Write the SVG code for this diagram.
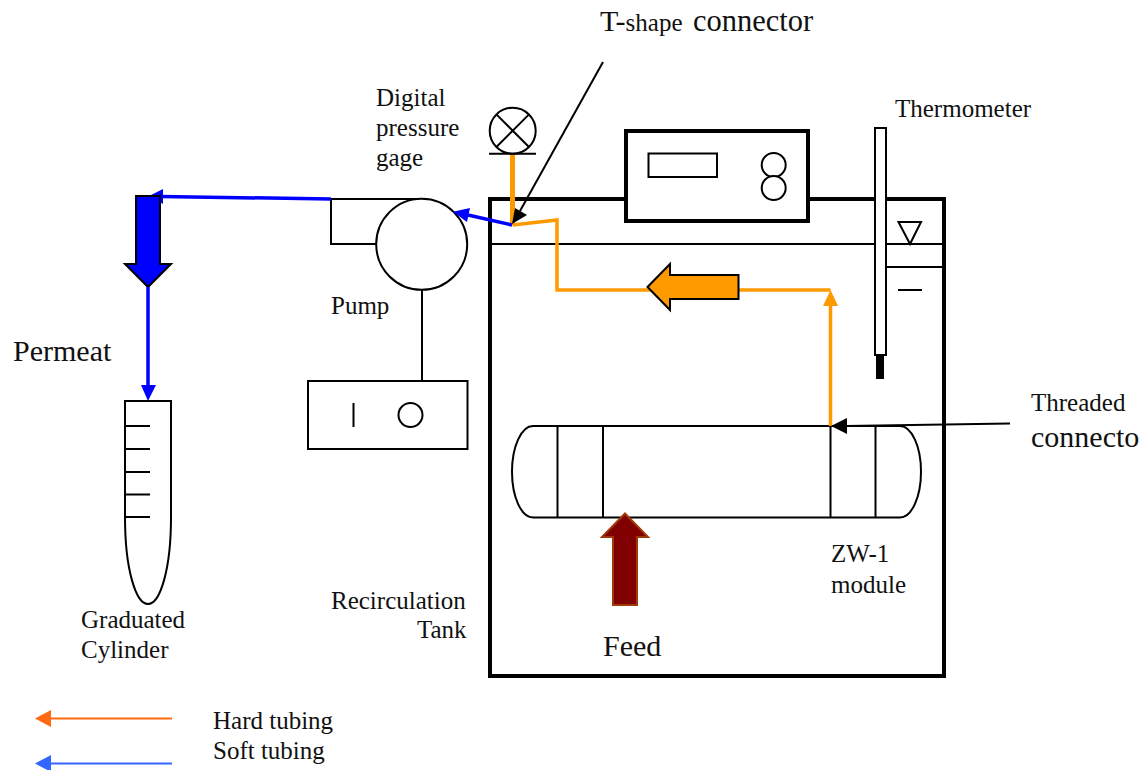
<svg xmlns="http://www.w3.org/2000/svg" width="1145" height="770" viewBox="0 0 1145 770">
<style>
text{font-family:"Liberation Serif","Times New Roman",serif;fill:#111;font-size:25px}
.big{font-size:30px}
.s{fill:none;stroke:#000;stroke-width:2}
.w{fill:#fff;stroke:#000;stroke-width:2}
.t{fill:#fff;stroke:#000;stroke-width:4}
.o{fill:none;stroke:#ff9900;stroke-width:3.5}
.b{fill:none;stroke:#0000ff;stroke-width:3.5}
</style>
<rect width="1145" height="770" fill="#fff"/>
<g id="tank">
<rect x="490" y="199" width="454" height="477" class="t" style="fill:none"/>
<path class="s" d="M490 244H944M886 267H944M898 290H922"/>
<path class="w" d="M898.500 222H921L910 244Z"/>
</g>
<g id="controller">
<rect x="626" y="131" width="182" height="90" class="t"/>
<rect x="648.500" y="153.500" width="68.500" height="23.500" class="w"/>
<circle cx="773.700" cy="165" r="12" class="w"/>
<circle cx="773.700" cy="188" r="12" class="w"/>
</g>
<g id="thermometer">
<rect x="875" y="128" width="11" height="227" class="w"/>
<rect x="876" y="355" width="8" height="24" fill="#000"/>
</g>
<g id="gage">
<circle cx="512.700" cy="130.700" r="23" class="s"/>
<path class="s" d="M496.400 114.400L529 147M529 114.400L496.400 147M489 153.700H536"/>
</g>
<g id="pump">
<path class="s" d="M422 199H331V244H376M422 290V381"/>
<circle cx="421.700" cy="244.300" r="45.500" class="w"/>
</g>
<g id="pump-control">
<rect x="308" y="381" width="159.500" height="68" class="w"/>
<path class="s" d="M353.500 403V427"/>
<circle cx="410.500" cy="415" r="12" class="s"/>
</g>
<g id="module">
<path class="s" d="M533 426H900A21 45.750 0 0 1 900 517.500H533A21 45.750 0 0 1 533 426ZM557.500 426V517.500M603 426V517.500M830.500 426V517.500M875.500 426V517.500"/>
</g>
<g id="cylinder">
<path class="s" d="M125 401H171V517C171 570 160 604 148 604C136 604 125 570 125 517ZM125 426H150M125 449H150M125 472H150M125 494.500H150M125 517H150"/>
</g>
<g id="connectors">
<path class="o" d="M830.500 426V300M830.500 290H557V220L512.500 225"/>
<path d="M512.500 155V225" fill="none" stroke="#ff9900" stroke-width="5"/>
<path d="M830.500 290L838 306H823Z" fill="#ff9900"/>
<path d="M647.500 287L670 264V275H738.500V299H670V310Z" fill="#ff9900" stroke="#000" stroke-width="2"/>
<path class="b" d="M512 225L468 215"/>
<path d="M453 211.700L470 208L467 222Z" fill="#0000ff"/>
<path class="b" d="M331 199L160 196.500"/>
<path d="M149 196L163 189V204Z" fill="#0000ff"/>
<path d="M136 196H160V264H171L148 287L125 264H136Z" fill="#0000ff" stroke="#000" stroke-width="2"/>
<path d="M148 287V388" fill="none" stroke="#0000ff" stroke-width="3.500"/>
<path d="M148 401L141 385H156Z" fill="#0000ff"/>
<path d="M625 513.500L648 537H637V605H613V537H602Z" fill="#800000" stroke="#a03808" stroke-width="2"/>
<path d="M603 62L520 211" fill="none" stroke="#000" stroke-width="2"/>
<path d="M512 224L515 208L527 215Z" fill="#000"/>
<path d="M1010 423.500L846 426" fill="none" stroke="#000" stroke-width="2"/>
<path d="M831 426L847 418V434Z" fill="#000"/>
<path d="M172 718.500H50" fill="none" stroke="#ff6a13" stroke-width="2"/>
<path d="M35 718.500L51 710V727Z" fill="#ff6a13"/>
<path d="M172 763.500H50" fill="none" stroke="#3366ff" stroke-width="2"/>
<path d="M35 763.500L51 755V772Z" fill="#3366ff"/>
</g>
<g id="labels">
<text x="600" y="31" class="big">T-<tspan style="font-size:25px">shape </tspan><tspan x="693" style="font-size:30.500px">connector</tspan></text>
<text x="376" y="106">Digital</text>
<text x="376" y="136">pressure</text>
<text x="376" y="166">gage</text>
<text x="895" y="117">Thermometer</text>
<text x="331" y="314">Pump</text>
<text x="13" y="361" class="big">Permeat</text>
<text x="1031" y="411">Threaded</text>
<text x="1031" y="447" class="big">connecto</text>
<text x="831" y="562">ZW-1</text>
<text x="831" y="593">module</text>
<text x="603" y="656" class="big">Feed</text>
<text x="331" y="609">Recirculation</text>
<text x="417" y="638">Tank</text>
<text x="81" y="628">Graduated</text>
<text x="81" y="658">Cylinder</text>
<text x="213" y="729">Hard tubing</text>
<text x="213" y="759">Soft tubing</text>
</g>
</svg>
